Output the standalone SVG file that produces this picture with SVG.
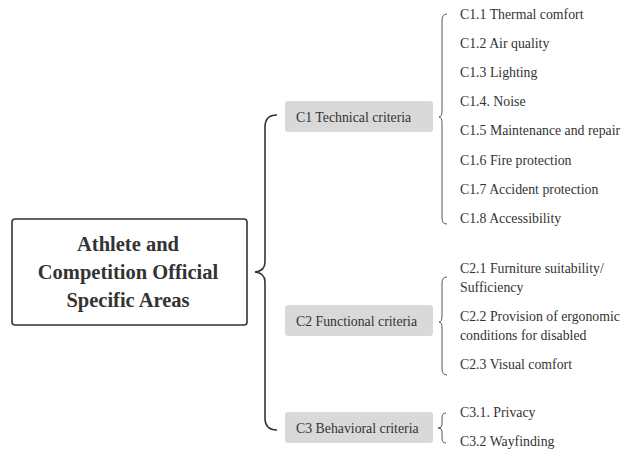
<svg xmlns="http://www.w3.org/2000/svg" width="621" height="451" viewBox="0 0 621 451">
<defs>
<style>
.lbl{font-family:"Liberation Serif","Times New Roman",serif;font-size:13.8px;fill:#333}
.title{font-family:"Liberation Serif","Times New Roman",serif;font-weight:bold;font-size:20.5px;fill:#333;text-anchor:middle}
.big{fill:none;stroke:#333;stroke-width:1.6}
.sub{fill:none;stroke:#555;stroke-width:1}
.cat{fill:#d9d9d9}
</style>
</defs>
<rect width="621" height="451" fill="#fff"/>
<g id="root">
<rect x="12" y="219" width="235" height="106" rx="3" fill="#fff" stroke="#333" stroke-width="1.6"/>
<text class="title" x="128" y="250.5" font-family="Liberation Serif">Athlete and</text>
<text class="title" x="128" y="278.5" font-family="Liberation Serif">Competition Official</text>
<text class="title" x="128" y="306.5" font-family="Liberation Serif">Specific Areas</text>
</g>
<g id="connectors">
<path class="big" d="M277 115 Q265 115 265 127 L265 262 Q265 271 255 272 Q265 273 265 282 L265 418 Q265 430 277 430"/>
<path class="sub" d="M447 14 Q442 14 442 20 L442 111 Q442 117 439 117 Q442 117 442 123 L442 218 Q442 224 447 224"/>
<path class="sub" d="M447 277 Q442 277 442 283 L442 316 Q442 322 439 322 Q442 322 442 328 L442 369 Q442 375 447 375"/>
<path class="sub" d="M446 413 Q442 413 442 418 L442 425 Q442 428 438 428 Q442 428 442 431 L442 438 Q442 443 446 443"/>
</g>
<g id="c1">
<rect class="cat" x="285" y="101" width="148" height="31" rx="3"/>
<text class="lbl" x="296" y="122" font-family="Liberation Serif">C1 Technical criteria</text>
</g>
<g id="c2">
<rect class="cat" x="285" y="305" width="148" height="31" rx="3"/>
<text class="lbl" x="296" y="326" font-family="Liberation Serif">C2 Functional criteria</text>
</g>
<g id="c3">
<rect class="cat" x="285" y="412" width="148" height="31" rx="3"/>
<text class="lbl" x="296" y="433" font-family="Liberation Serif">C3 Behavioral criteria</text>
</g>
<g id="c1-items">
<text class="lbl" x="460" y="18.5" font-family="Liberation Serif">C1.1 Thermal comfort</text>
<text class="lbl" x="460" y="47.7" font-family="Liberation Serif">C1.2 Air quality</text>
<text class="lbl" x="460" y="76.9" font-family="Liberation Serif">C1.3 Lighting</text>
<text class="lbl" x="460" y="106.1" font-family="Liberation Serif">C1.4. Noise</text>
<text class="lbl" x="460" y="135.3" font-family="Liberation Serif">C1.5 Maintenance and repair</text>
<text class="lbl" x="460" y="164.5" font-family="Liberation Serif">C1.6 Fire protection</text>
<text class="lbl" x="460" y="193.7" font-family="Liberation Serif">C1.7 Accident protection</text>
<text class="lbl" x="460" y="222.9" font-family="Liberation Serif">C1.8 Accessibility</text>
</g>
<g id="c2-items">
<text class="lbl" x="460" y="273" font-family="Liberation Serif">C2.1 Furniture suitability/</text>
<text class="lbl" x="460" y="292" font-family="Liberation Serif">Sufficiency</text>
<text class="lbl" x="460" y="321" font-family="Liberation Serif">C2.2 Provision of ergonomic</text>
<text class="lbl" x="460" y="340" font-family="Liberation Serif">conditions for disabled</text>
<text class="lbl" x="460" y="369" font-family="Liberation Serif">C2.3 Visual comfort</text>
</g>
<g id="c3-items">
<text class="lbl" x="460" y="417" font-family="Liberation Serif">C3.1. Privacy</text>
<text class="lbl" x="460" y="446" font-family="Liberation Serif">C3.2 Wayfinding</text>
</g>
</svg>
